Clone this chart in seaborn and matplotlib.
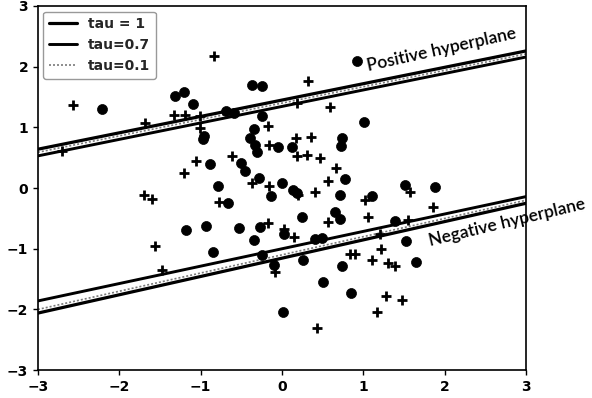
import matplotlib
matplotlib.use("Agg")
import matplotlib.pyplot as plt
import seaborn as sns
import pandas as pd

# Class +1 samples (filled circles)
circle_x = [0.92, -0.37, -0.25, -1.31, -1.21, -2.21, -1.10, -0.69, -0.59, -0.25,
            1.01, -0.96, -0.97, -0.34, -0.39, -0.33, -0.31, -0.05, 0.12, 0.74,
            0.72, -0.88, -0.50, -0.45, -0.28, -0.79, -0.67, 0.00, 0.13, 0.18,
            -0.14, 0.71, 0.77, 1.10, 1.51, 1.88, 0.25, 0.65, 0.71, -1.18,
            -0.94, -0.53, -0.27, 0.02, -0.34, 0.41, 0.49, 1.39, 1.52, -0.85,
            -0.25, -0.10, 0.26, 0.74, 1.64, 0.50, 0.85, 0.01]
circle_y = [2.09, 1.69, 1.68, 1.51, 1.58, 1.31, 1.38, 1.27, 1.23, 1.19,
            1.09, 0.86, 0.80, 0.97, 0.82, 0.71, 0.59, 0.67, 0.67, 0.82,
            0.70, 0.39, 0.42, 0.28, 0.17, 0.03, -0.24, 0.08, -0.03, -0.08,
            -0.13, -0.11, 0.15, -0.13, 0.05, 0.02, -0.48, -0.40, -0.51, -0.69,
            -0.62, -0.66, -0.64, -0.75, -0.86, -0.84, -0.83, -0.55, -0.88, -1.06,
            -1.10, -1.27, -1.18, -1.29, -1.22, -1.55, -1.73, -2.05]

# Class -1 samples (plus markers)
plus_x = [-0.84, 0.32, -2.57, 0.59, -1.68, -1.33, -1.19, -1.01, -1.01, 0.18,
          -0.17, -2.70, -0.16, 0.17, 0.36, 0.18, 0.30, 0.46, -0.62, -1.06,
          -1.21, 0.66, 0.57, -0.37, -0.16, 0.20, 0.40, -1.70, -1.60, -0.78,
          1.02, 1.57, 1.85, 1.06, 1.55, 0.56, -0.17, 0.02, 0.15, 1.20,
          -1.56, -1.47, -0.09, 0.84, 0.89, 1.11, 1.22, 1.30, 1.39, 1.28,
          1.47, 1.17, 0.43]
plus_y = [2.17, 1.76, 1.37, 1.33, 1.07, 1.21, 1.20, 1.19, 0.99, 1.40,
          1.03, 0.61, 0.71, 0.82, 0.84, 0.52, 0.54, 0.50, 0.53, 0.44,
          0.24, 0.33, 0.12, 0.08, 0.04, -0.11, -0.07, -0.12, -0.18, -0.23,
          -0.19, -0.07, -0.32, -0.48, -0.53, -0.56, -0.58, -0.67, -0.81, -0.75,
          -0.96, -1.35, -1.38, -1.09, -1.09, -1.18, -1.00, -1.24, -1.29, -1.78,
          -1.84, -2.05, -2.30]

# Hyperplane end points over the plotted range
x_ends = [-3, 3]
pos_tau1 = [0.64, 2.26]
pos_tau07 = [0.53, 2.16]
pos_tau01 = [0.59, 2.21]
neg_tau1 = [-2.06, -0.25]
neg_tau07 = [-1.86, -0.14]
neg_tau01 = [-2.00, -0.20]

tau_labels = ["tau = 1", "tau=0.7", "tau=0.1"]

sns.set_theme(style="ticks")
plt.rcParams["font.family"] = ["DejaVu Sans"]

fig = plt.figure(figsize=(5.92, 3.98), dpi=100)
ax = fig.add_axes([0.064, 0.070, 0.825, 0.915])

circles = pd.DataFrame({"x": circle_x, "y": circle_y})
pluses = pd.DataFrame({"x": plus_x, "y": plus_y})

styles = [
    dict(color="black", linewidth=2.3, linestyle="-"),
    dict(color="black", linewidth=2.1, linestyle="-"),
    dict(color="#7a7a7a", linewidth=1.2, linestyle=(0, (1.2, 1.2))),
]
pairs = [(pos_tau1, neg_tau1), (pos_tau07, neg_tau07), (pos_tau01, neg_tau01)]

handles = []
for (pos, neg), st, lab in zip(pairs, styles, tau_labels):
    sns.lineplot(x=x_ends, y=pos, ax=ax, **st)
    sns.lineplot(x=x_ends, y=neg, ax=ax, **st)
    handles.append(plt.Line2D([], [], label=lab, **st))

sns.scatterplot(data=circles, x="x", y="y", ax=ax, marker="o", s=52,
                color="black", edgecolor="black", linewidth=0.5, zorder=3)
sns.scatterplot(data=pluses, x="x", y="y", ax=ax, marker="+", s=60,
                color="black", linewidth=2.0, zorder=3)

label_font = dict(fontsize=12.5, family=["Lato", "DejaVu Sans"],
                  weight="semibold", color="black")
ax.text(1.06, 1.92, "Positive hyperplane", rotation=12.5, ha="left",
        va="baseline", rotation_mode="anchor", **label_font)
ax.text(1.82, -0.96, "Negative hyperplane", rotation=13.5, ha="left",
        va="baseline", rotation_mode="anchor", clip_on=False, **label_font)

ax.set_xlim(-3, 3)
ax.set_ylim(-3, 3)
ax.set_xticks(range(-3, 4))
ax.set_yticks(range(-3, 4))
ax.set_xlabel("")
ax.set_ylabel("")
ax.tick_params(labelsize=10, length=3.5, width=1.0, colors="black")
for lbl in ax.get_xticklabels() + ax.get_yticklabels():
    lbl.set_fontweight("bold")
for sp in ax.spines.values():
    sp.set_color("black")
    sp.set_linewidth(1.2)

leg = ax.legend(handles=handles, loc="upper left", fontsize=10, frameon=True,
                edgecolor="#999999", fancybox=True, framealpha=1.0,
                borderaxespad=0.4)
for t in leg.get_texts():
    t.set_fontweight("bold")

fig.savefig("out.png", dpi=100)
